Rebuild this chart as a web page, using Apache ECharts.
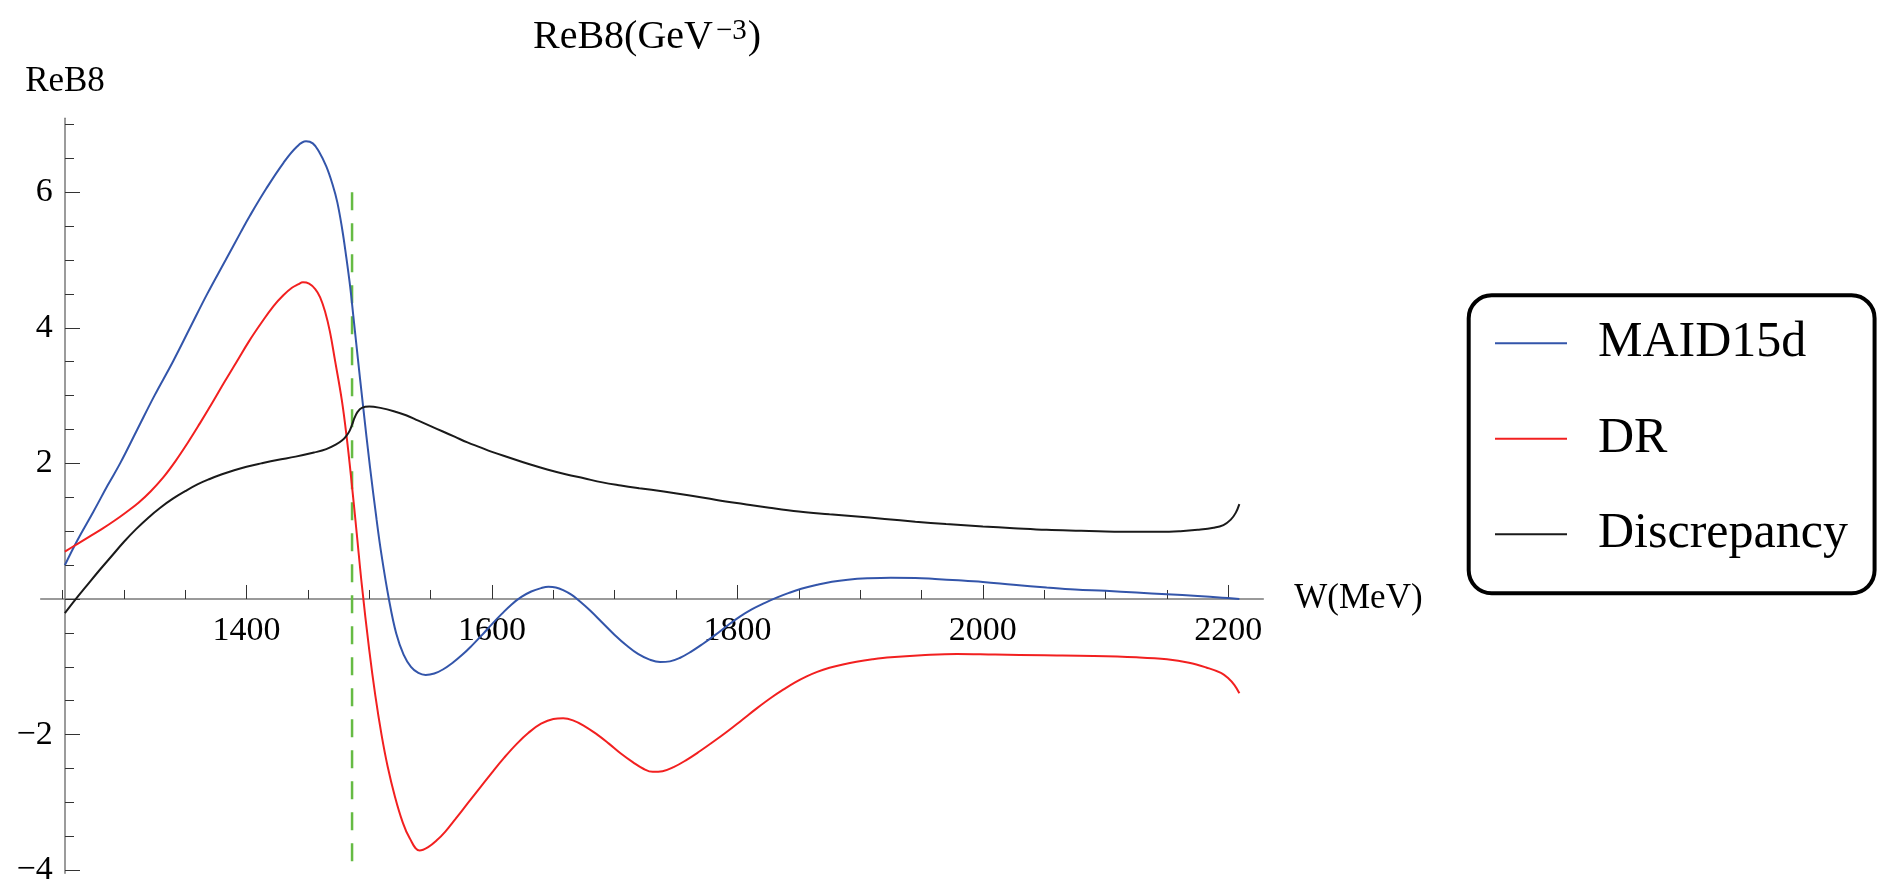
<!DOCTYPE html>
<html><head><meta charset="utf-8">
<script src="https://cdn.jsdelivr.net/npm/echarts@6/dist/echarts.min.js"></script>
<style>html,body{margin:0;padding:0;background:#fff}#c{width:1879px;height:885px}</style>
</head><body><div id="c"></div>
<script>
// ---- data ----
const seriesNames = ['MAID15d', 'DR', 'Discrepancy'];

const maidW = [1252,1262,1275,1287,1297,1311,1325,1340,1354,1368,1383,1395,1403,1416,1430,1441,1448.5,1454,1459,1465,1470,1474,1478,1481,1484.5,1487,1490,1495,1500.6,1506,1510,1516,1522,1528,1534,1540,1546,1553,1560,1568,1576,1584,1592,1600,1608,1616,1624,1632,1640,1646,1652,1658,1665,1672,1680,1690,1700,1710,1719,1728,1737,1745,1753,1762,1772,1782,1792,1802,1812,1822,1832,1842,1852,1865,1877,1890,1906,1925,1945,1961,1980,2000,2025,2052,2075,2100,2125,2150,2175,2195,2209];
const maidV = [0.50,0.86,1.28,1.68,2.0,2.50,3.0,3.50,4.0,4.50,5.0,5.40,5.66,6.05,6.43,6.67,6.75,6.72,6.60,6.38,6.12,5.85,5.45,5.08,4.6,4.18,3.67,2.84,1.95,1.17,0.65,0,-0.51,-0.82,-1.0,-1.09,-1.12,-1.10,-1.04,-0.94,-0.82,-0.68,-0.53,-0.37,-0.22,-0.08,0.03,0.11,0.16,0.18,0.17,0.13,0.06,-0.04,-0.17,-0.35,-0.53,-0.69,-0.81,-0.89,-0.93,-0.92,-0.87,-0.78,-0.66,-0.53,-0.39,-0.26,-0.15,-0.06,0.02,0.09,0.15,0.21,0.255,0.285,0.305,0.315,0.31,0.295,0.275,0.25,0.21,0.17,0.14,0.12,0.095,0.07,0.045,0.02,0.0];

const drW = [1252,1262,1272,1282,1292,1302,1312,1322,1332,1342,1352,1362,1372,1382,1392,1402,1412,1422,1430,1437,1442,1446,1451,1456,1460,1464,1468,1472,1477.6,1481.6,1485.7,1489.8,1494,1500,1505,1510,1515,1521,1527,1533,1541,1548,1555,1562,1570,1580,1590,1600,1610,1620,1630,1640,1650,1658,1666,1675,1685,1695,1705,1715,1723,1731,1739,1748,1758,1769,1780,1792,1804,1816,1828,1838,1847,1856,1865,1875,1886,1897,1910,1925,1950,1979,2010,2050,2090,2125,2150,2168,2182,2194,2200,2205,2209];
const drV = [0.70,0.81,0.92,1.03,1.15,1.28,1.42,1.59,1.79,2.03,2.30,2.59,2.89,3.20,3.50,3.80,4.07,4.32,4.48,4.59,4.64,4.67,4.65,4.57,4.45,4.24,3.94,3.53,2.94,2.39,1.71,0.97,0.20,-0.75,-1.43,-2.0,-2.47,-2.92,-3.28,-3.53,-3.71,-3.66,-3.56,-3.43,-3.25,-3.02,-2.79,-2.56,-2.34,-2.14,-1.97,-1.84,-1.77,-1.76,-1.79,-1.87,-1.99,-2.13,-2.28,-2.41,-2.50,-2.55,-2.54,-2.48,-2.38,-2.25,-2.11,-1.95,-1.78,-1.61,-1.45,-1.33,-1.23,-1.145,-1.075,-1.015,-0.965,-0.925,-0.89,-0.86,-0.83,-0.81,-0.82,-0.83,-0.84,-0.86,-0.89,-0.94,-1.01,-1.09,-1.17,-1.27,-1.39];

const discW = [1252,1261,1270,1280,1290,1300,1310,1320,1330,1340,1350,1360,1370,1380,1390,1400,1412,1425,1440,1455,1465,1473,1478,1481.5,1484,1486,1488,1490.5,1494,1500,1510,1520,1530,1540,1550,1560,1570,1580,1590,1600,1615,1630,1645,1660,1675,1690,1705,1720,1740,1760,1783,1805,1826,1850,1875,1895,1920,1945,1970,2000,2025,2052,2080,2100,2125,2145,2161,2175,2188,2196,2202,2206,2209];
const discV = [-0.21,0.0,0.20,0.42,0.63,0.84,1.03,1.20,1.35,1.48,1.59,1.69,1.77,1.84,1.90,1.95,2.0,2.05,2.10,2.16,2.21,2.28,2.34,2.41,2.48,2.57,2.67,2.76,2.82,2.84,2.815,2.77,2.71,2.63,2.55,2.47,2.39,2.31,2.24,2.17,2.08,1.99,1.91,1.84,1.78,1.72,1.675,1.635,1.585,1.53,1.46,1.40,1.345,1.29,1.25,1.22,1.18,1.14,1.105,1.07,1.045,1.02,1.005,0.995,0.99,0.99,1.0,1.02,1.05,1.09,1.17,1.27,1.40];

// eta threshold marker (drawn top to bottom)
const etaW = 1486;
const etaRange = [6, -4];

// ticks
const xMajorTicks = [1400, 1600, 1800, 2000, 2200];
const xMinorTicks = [1250,1300,1350,1450,1500,1550,1650,1700,1750,1850,1900,1950,2050,2100,2150];
const yMajorTicks = [-4, -2, 0, 2, 4, 6];
const yLabelTicks = [-4, -2, 2, 4, 6];
const yMinorTicks = [-3.5,-3,-2.5,-1.5,-1,-0.5,0.5,1,1.5,2.5,3,3.5,4.5,5,5.5,6.5,7];

// ---- chart ----
const FONT = "'Liberation Serif','Times New Roman',serif";
const pair = (w, v) => w.map((x, i) => [x, v[i]]);
const X_MIN = 1232.3, X_MAX = 2228.5, Y_MIN = -4.046, Y_MAX = 7.09;
const GRID = { left: 40.7, right: 1879 - 1263.3, top: 118.3, bottom: 885 - 873.3 };
const gridH = 885 - GRID.top - GRID.bottom;
// x axis drawn where y = 0 (Mathematica style axes)
const xAxisOffset = -(0 - Y_MIN) / (Y_MAX - Y_MIN) * gridH;
const fmtNum = v => (v < 0 ? '\u2212' + (-v) : String(v));

const axisLineStyle = { color: '#7a7a7a', width: 1.5 };
const tickStyle = { color: '#333', width: 1 };

const chart = echarts.init(document.getElementById('c'), null, { renderer: 'canvas' });
chart.setOption({
  animation: false,
  backgroundColor: '#fff',
  title: {
    text: '{a|ReB8(GeV}{s|\u22123}{a|)}',
    left: 533, top: 17, padding: 0,
    textStyle: {
      fontWeight: 'normal',
      rich: {
        a: { fontFamily: FONT, fontSize: 40, fontWeight: 'normal', color: '#000' },
        s: { fontFamily: FONT, fontSize: 29, fontWeight: 'normal', color: '#000', verticalAlign: 'top', padding: [0, 1, 0, 3] }
      }
    }
  },
  legend: {
    data: seriesNames,
    orient: 'vertical',
    left: 1468.7, top: 295.3,
    padding: [23, 26.7, 34, 26.3],
    itemGap: 45.5,
    icon: 'rect',
    itemWidth: 72, itemHeight: 2,
    borderColor: '#000', borderWidth: 4, borderRadius: 23,
    backgroundColor: '#fff',
    textStyle: { fontFamily: FONT, fontSize: 50, color: '#000', padding: [0, 0, 0, 26] }
  },
  grid: Object.assign({ containLabel: false, outerBoundsMode: 'none' }, GRID),
  xAxis: [
    {
      type: 'value', min: X_MIN, max: X_MAX, position: 'bottom', offset: xAxisOffset,
      name: 'W(MeV)', nameLocation: 'end', nameGap: 31,
      nameTextStyle: { fontFamily: FONT, fontSize: 35, color: '#000' },
      axisLine: { show: true, onZero: false, lineStyle: axisLineStyle },
      axisTick: { show: true, inside: true, length: 14, lineStyle: tickStyle, customValues: xMajorTicks },
      axisLabel: { show: true, margin: 15, fontFamily: FONT, fontSize: 34, color: '#000', customValues: xMajorTicks, formatter: v => String(v) },
      splitLine: { show: false }
    },
    {
      type: 'value', min: X_MIN, max: X_MAX, position: 'bottom', offset: xAxisOffset,
      axisLine: { show: false, onZero: false },
      axisTick: { show: true, inside: true, length: 9, lineStyle: tickStyle, customValues: xMinorTicks },
      axisLabel: { show: false },
      splitLine: { show: false }
    }
  ],
  yAxis: [
    {
      type: 'value', min: Y_MIN, max: Y_MAX, position: 'left', offset: -24.3,
      name: 'ReB8', nameLocation: 'end', nameGap: 19,
      nameTextStyle: { fontFamily: FONT, fontSize: 35, color: '#000' },
      axisLine: { show: true, onZero: false, lineStyle: axisLineStyle },
      axisTick: { show: true, inside: true, length: 15, lineStyle: tickStyle, customValues: yMajorTicks },
      axisLabel: { show: true, margin: 12.3, fontFamily: FONT, fontSize: 34, color: '#000', customValues: yLabelTicks, formatter: fmtNum },
      splitLine: { show: false }
    },
    {
      type: 'value', min: Y_MIN, max: Y_MAX, position: 'left', offset: -24.3,
      axisLine: { show: false, onZero: false },
      axisTick: { show: true, inside: true, length: 9, lineStyle: tickStyle, customValues: yMinorTicks },
      axisLabel: { show: false },
      splitLine: { show: false }
    }
  ],
  series: [
    {
      name: 'eta', type: 'line', xAxisIndex: 0, yAxisIndex: 0, symbol: 'none',
      data: etaRange.map(v => [etaW, v]),
      lineStyle: { color: '#66bb44', width: 2.5, type: [18, 13] }, z: 1, silent: true
    },
    {
      name: seriesNames[0], type: 'line', xAxisIndex: 0, yAxisIndex: 0, symbol: 'none', smooth: 0.4,
      data: pair(maidW, maidV), color: '#3355aa', lineStyle: { color: '#3355aa', width: 2 }, z: 3
    },
    {
      name: seriesNames[1], type: 'line', xAxisIndex: 0, yAxisIndex: 0, symbol: 'none', smooth: 0.4,
      data: pair(drW, drV), color: '#f22020', lineStyle: { color: '#f22020', width: 2 }, z: 3
    },
    {
      name: seriesNames[2], type: 'line', xAxisIndex: 0, yAxisIndex: 0, symbol: 'none', smooth: 0.4,
      data: pair(discW, discV), color: '#1a1a1a', lineStyle: { color: '#1a1a1a', width: 2 }, z: 3
    }
  ]
});
</script></body></html>
